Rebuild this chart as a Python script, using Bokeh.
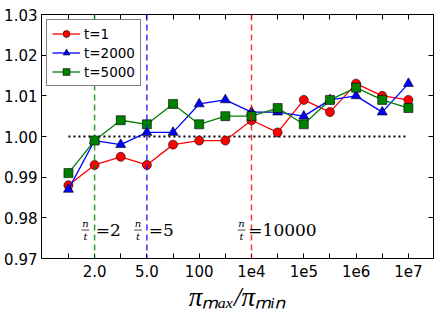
from bokeh.plotting import figure
from bokeh.models import Range1d, FixedTicker, LinearAxis, Span, Label, Legend, LegendItem
from bokeh.embed import file_html
from bokeh.resources import INLINE

# ---- data ----
x_idx = list(range(14))
x_tick_labels = ["", "2.0", "", "5.0", "", "100", "", "1e4", "", "1e5", "", "1e6", "", "1e7"]
y_ticks = [0.97, 0.98, 0.99, 1.00, 1.01, 1.02, 1.03]

t1 = [0.988, 0.993, 0.995, 0.993, 0.998, 0.999, 0.999, 1.004, 1.001, 1.009, 1.006, 1.013, 1.010, 1.009]
t2000 = [0.987, 0.999, 0.998, 1.001, 1.001, 1.008, 1.009, 1.006, 1.006, 1.005, 1.009, 1.010, 1.006, 1.013]
t5000 = [0.991, 0.999, 1.004, 1.003, 1.008, 1.003, 1.005, 1.005, 1.007, 1.003, 1.009, 1.012, 1.009, 1.007]

vline_idx = [1, 3, 7]
vline_colors = ["#008000", "#0000ff", "#ff0000"]
ratio_texts = ["=2", "=5", "=10000"]
ref_level = 1.00

p = figure(width=439, height=315, output_backend="svg", toolbar_location=None,
           x_range=Range1d(-1.03, 13.96), y_range=Range1d(0.97, 1.03),
           min_border_top=14, min_border_right=6, min_border_left=41, min_border_bottom=57)
p.background_fill_color = "white"
p.border_fill_color = "white"
p.outline_line_color = "black"
p.outline_line_width = 1
p.xgrid.visible = False
p.ygrid.visible = False

# axes
p.xaxis.ticker = FixedTicker(ticks=x_idx)
p.xaxis.major_label_overrides = {i: s for i, s in zip(x_idx, x_tick_labels)}
p.yaxis.ticker = FixedTicker(ticks=y_ticks)
p.yaxis.major_label_overrides = {v: f"{v:.2f}" for v in y_ticks}

for ax in (p.xaxis[0], p.yaxis[0]):
    ax.major_tick_in = 5
    ax.major_tick_out = 0
    ax.minor_tick_line_color = None
    ax.axis_line_color = "black"
    ax.major_tick_line_color = "black"
    ax.major_label_text_font = "DejaVu Sans"
    ax.major_label_text_font_size = "15px"
    ax.major_label_text_color = "black"
p.xaxis.major_label_standoff = 6
p.yaxis.major_label_standoff = 4

p.xaxis.axis_label = "\u03c0\u2098\u2090\u2093/\u03c0\u2098\u1d62\u2099"
p.xaxis.axis_label_text_font = "Liberation Serif"
p.xaxis.axis_label_text_font_style = "italic"
p.xaxis.axis_label_text_font_size = "27px"
p.xaxis.axis_label_text_color = "black"
p.xaxis.axis_label_standoff = 2

top = LinearAxis(ticker=FixedTicker(ticks=x_idx), major_tick_in=5, major_tick_out=0,
                 minor_tick_line_color=None, major_label_text_color=None,
                 major_label_standoff=0, axis_line_color="black")
right = LinearAxis(ticker=FixedTicker(ticks=y_ticks), major_tick_in=5, major_tick_out=0,
                   minor_tick_line_color=None, major_label_text_color=None,
                   major_label_standoff=0, axis_line_color="black")
p.add_layout(top, "above")
p.add_layout(right, "right")

# vertical dashed lines
for xi, c in zip(vline_idx, vline_colors):
    p.add_layout(Span(location=xi, dimension="height", line_color=c, line_alpha=0.8,
                      line_width=1.5, line_dash="6 4"))

# dotted reference line
p.line(x_idx, [ref_level] * len(x_idx), line_color="black", line_width=2, line_dash="2 3")

# series
items = []
specs = [(t1, "#ff0000", "circle", 9, "t=1"),
         (t2000, "#0000ff", "triangle", 10, "t=2000"),
         (t5000, "#008000", "square", 9, "t=5000")]
for ys, c, m, s, lab in specs:
    l = p.line(x_idx, ys, line_color=c, line_width=1.3)
    sc = p.scatter(x_idx, ys, marker=m, size=s, fill_color=c, line_color="black", line_width=0.6)
    items.append(LegendItem(label=lab, renderers=[l, sc]))

leg = Legend(items=items, location="top_left")
leg.border_line_color = "black"
leg.border_line_width = 1
leg.background_fill_alpha = 1
leg.label_text_font = "DejaVu Sans"
leg.label_text_font_size = "13.5px"
leg.label_text_color = "black"
leg.glyph_width = 28
leg.glyph_height = 17
leg.label_height = 17
leg.spacing = 2
leg.padding = 5
leg.margin = 5
leg.label_standoff = 4
p.add_layout(leg)

# n/t annotations
frac_off = [-0.35, -0.34, -0.38]
eq_off = [0.04, 0.07, -0.12]
y_text = 0.977
for xi, off, eo, txt in zip(vline_idx, frac_off, eq_off, ratio_texts):
    p.add_layout(Label(x=xi + off, y=y_text, text="n", text_font="DejaVu Serif",
                       text_font_style="italic", text_font_size="10px", text_align="center",
                       text_baseline="bottom", y_offset=1, text_color="black"))
    p.add_layout(Label(x=xi + off, y=y_text, text="t", text_font="DejaVu Serif",
                       text_font_style="italic", text_font_size="10px", text_align="center",
                       text_baseline="top", y_offset=-1, text_color="black"))
    p.segment(x0=[xi + off - 0.15], y0=[y_text], x1=[xi + off + 0.15], y1=[y_text],
              line_color="black", line_width=0.7)
    p.add_layout(Label(x=xi + eo, y=y_text, text=txt, text_font="DejaVu Serif",
                       text_font_size="17px", text_align="left", text_baseline="middle",
                       text_color="black"))

open("out.html", "w").write(file_html(p, INLINE))
